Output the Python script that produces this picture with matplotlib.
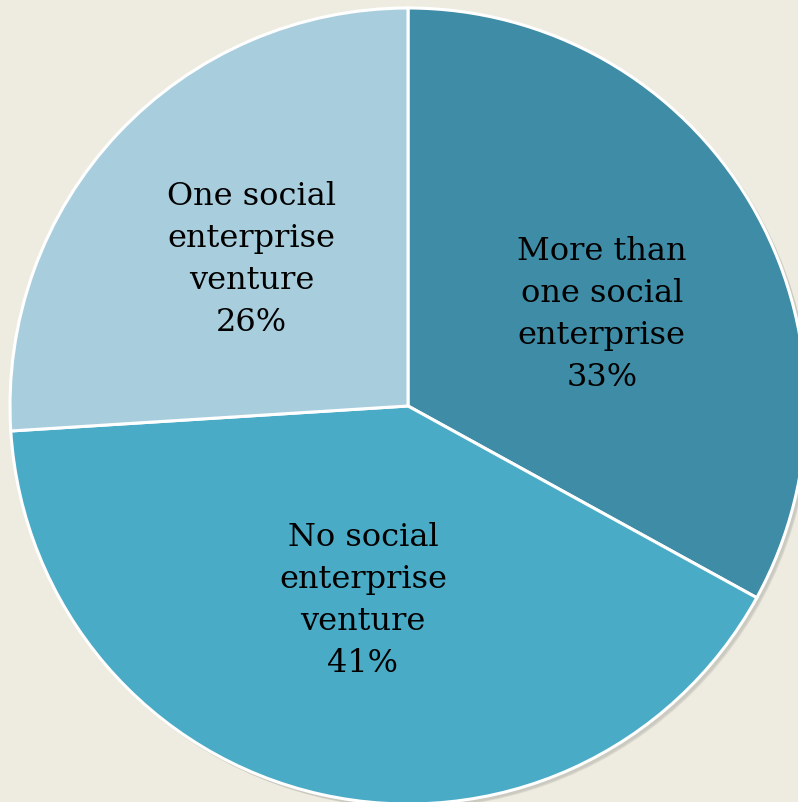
import numpy as np
import matplotlib
matplotlib.use("Agg")
import matplotlib.pyplot as plt
from matplotlib.patches import Circle

categories = ["More than\none social\nenterprise", "No social\nenterprise\nventure", "One social\nenterprise\nventure"]
values = [33, 41, 26]
colors = ["#3E8CA6", "#4AABC6", "#A8CEDD"]
bg = "#EEEBE0"

# label placement (fraction of radius, angle shift in degrees)
label_dist = [0.54, 0.50, 0.54]
label_shift = [-5.0, -0.5, 0.0]

W, H = 798, 803
fig = plt.figure(figsize=(W / 100, H / 100), dpi=100, facecolor=bg)
ax = fig.add_axes([0, 0, 1, 1])
ax.set_facecolor(bg)

cx, cy, r = 408, H - 407, 398
# soft shadow
for i, a in enumerate([0.05, 0.05, 0.06, 0.07]):
    ax.add_patch(Circle((cx + 2 + i * 0.8, cy - 2 - i * 0.8), r + 1.5 - i * 0.5,
                        facecolor="#555555", edgecolor="none", alpha=a, zorder=0))

wedges, _ = ax.pie(values, colors=colors, startangle=90, counterclock=False,
                   center=(cx, cy), radius=r, frame=True,
                   wedgeprops=dict(edgecolor="white", linewidth=2.2, zorder=2))
ax.set_xlim(0, W)
ax.set_ylim(0, H)
ax.set_aspect("equal")
ax.axis("off")

for w, lab, v, dd, sh in zip(wedges, categories, values, label_dist, label_shift):
    mid = np.deg2rad((w.theta1 + w.theta2) / 2 + sh)
    d = dd * r
    ax.text(cx + d * np.cos(mid), cy + d * np.sin(mid), f"{lab}\n{v}%",
            ha="center", va="center", fontsize=23, family="DejaVu Serif",
            color="black", linespacing=1.46, zorder=3)

fig.savefig("out.png", dpi=100, facecolor=bg)
